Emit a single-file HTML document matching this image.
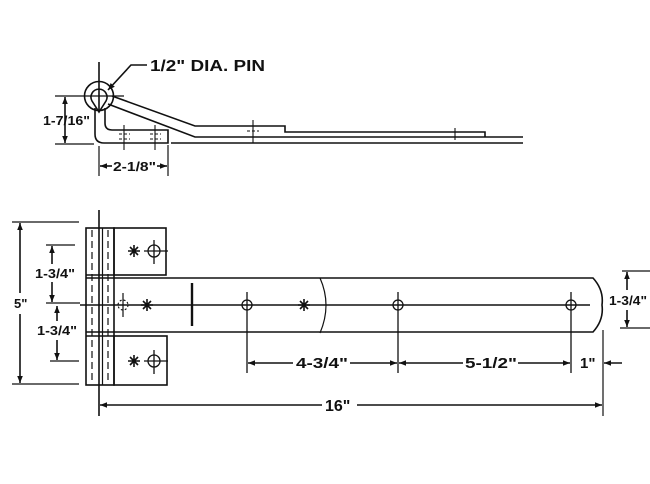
<!DOCTYPE html>
<html><head><meta charset="utf-8"><style>
html,body{margin:0;padding:0;background:#fff;width:650px;height:484px;overflow:hidden}
svg{display:block}
text{font-family:"Liberation Sans",Arial,sans-serif;font-weight:bold;fill:#111}
</style></head><body>
<svg width="650" height="484" viewBox="0 0 650 484" xmlns="http://www.w3.org/2000/svg">
<defs>
<marker id="a" viewBox="0 0 10 10" refX="10" refY="5" markerWidth="7" markerHeight="7" orient="auto-start-reverse" markerUnits="userSpaceOnUse"><path d="M0,1 L10,5 L0,9 Z" fill="#111"/></marker>
</defs>
<g stroke="#111" stroke-width="1.6" fill="none">
<!-- TOP VIEW -->
<line x1="99" y1="62" x2="99" y2="110"/>
<circle cx="99" cy="96" r="14.5"/>
<path d="M92,101 A8,8 0 1 1 106,101 L99,112 Z"/>
<!-- leaf loop -->
<path d="M95,108 L95,134 Q95,143 104,143 L168,143 L168,130 L112,130 Q105,130 105,123 L105,108"/>
<!-- strap -->
<path d="M112,96 L195,126 L285,126 L285,132 L485,132 L485,137"/>
<path d="M108,104 L195,137 L523,137"/>
<line x1="171" y1="143" x2="523" y2="143"/>
<line x1="168" y1="132" x2="195" y2="132" stroke-width="0"/>
<!-- hole marks -->
<g stroke-width="1.1">
<line x1="124" y1="125" x2="124" y2="150"/><line x1="155" y1="125" x2="155" y2="150"/>
<line x1="253" y1="120" x2="253" y2="143"/><line x1="455" y1="128" x2="455" y2="140"/>
<line x1="119" y1="134" x2="130" y2="134" stroke-dasharray="3 2"/><line x1="150" y1="134" x2="161" y2="134" stroke-dasharray="3 2"/>
<line x1="119" y1="139" x2="130" y2="139" stroke-dasharray="3 2"/><line x1="150" y1="139" x2="161" y2="139" stroke-dasharray="3 2"/>
<line x1="247" y1="131" x2="259" y2="131" stroke-dasharray="3 2"/>
</g>
<!-- leader -->
<polyline points="147,65 131,65 108,90" marker-end="url(#a)"/>
<!-- 1-7/16 dim -->
<line x1="55" y1="96" x2="124" y2="96" stroke-width="1.2"/>
<line x1="55" y1="144" x2="94" y2="144" stroke-width="1.2"/>
<line x1="65" y1="97" x2="65" y2="143" marker-start="url(#a)" marker-end="url(#a)"/>
<!-- 2-1/8 dim -->
<line x1="99" y1="146" x2="99" y2="176" stroke-width="1.2"/>
<line x1="168" y1="145" x2="168" y2="176" stroke-width="1.2"/>
<line x1="100" y1="166" x2="112" y2="166" marker-start="url(#a)"/>
<line x1="157" y1="166" x2="167" y2="166" marker-end="url(#a)"/>

<!-- BOTTOM VIEW -->
<rect x="86" y="228" width="28" height="157"/>
<line x1="86" y1="275" x2="114" y2="275"/><line x1="86" y1="278" x2="114" y2="278"/>
<line x1="86" y1="332" x2="114" y2="332"/><line x1="86" y1="336" x2="114" y2="336"/>
<line x1="99" y1="210" x2="99" y2="416"/>
<line x1="102.5" y1="228" x2="102.5" y2="385" stroke-width="1.2"/>
<line x1="92" y1="230" x2="92" y2="384" stroke-dasharray="7 4" stroke-width="1.2"/>
<line x1="108" y1="230" x2="108" y2="384" stroke-dasharray="7 4" stroke-width="1.2"/>
<rect x="114" y="228" width="52" height="47"/>
<rect x="114" y="336" width="53" height="49"/>
<path d="M114,278 L593,278 Q604,290 602,305 Q604,320 593,332 L114,332"/>
<path d="M320,278 Q332,305 320,333" stroke-width="1.2"/>
<line x1="80" y1="305" x2="590" y2="305"/>
<!-- marks -->
<line x1="192" y1="283" x2="192" y2="326" stroke-width="2.4"/>
<circle cx="123" cy="305" r="5" stroke-dasharray="2 2" stroke-width="1.1"/>
<line x1="123" y1="293" x2="123" y2="317" stroke-width="1.2"/>
<g stroke-width="1.3">
<circle cx="247" cy="305" r="5"/><line x1="247" y1="292" x2="247" y2="373"/>
<circle cx="398" cy="305" r="5"/><line x1="398" y1="292" x2="398" y2="373"/>
<circle cx="571" cy="305" r="5"/><line x1="571" y1="292" x2="571" y2="373"/>
<circle cx="154" cy="251" r="6"/><line x1="144" y1="251" x2="168" y2="251"/><line x1="154" y1="240" x2="154" y2="264"/>
<circle cx="154" cy="361" r="6"/><line x1="144" y1="361" x2="168" y2="361"/><line x1="154" y1="350" x2="154" y2="374"/>
</g>
<g stroke-width="1.6">
<path d="M128,251h12M134,245v12M130,247l8,8M138,247l-8,8"/>
<path d="M128,361h12M134,355v12M130,357l8,8M138,357l-8,8"/>
<path d="M141,305h12M147,299v12M143,301l8,8M151,301l-8,8"/>
<path d="M298,305h12M304,299v12M300,301l8,8M308,301l-8,8"/>
</g>
<!-- left dims -->
<g stroke-width="1.2">
<line x1="12" y1="222" x2="79" y2="222"/><line x1="12" y1="384" x2="79" y2="384"/>
<line x1="46" y1="245" x2="75" y2="245"/><line x1="46" y1="303" x2="80" y2="303"/>
<line x1="50" y1="361" x2="79" y2="361"/>
<line x1="622" y1="271" x2="650" y2="271"/><line x1="620" y1="328" x2="650" y2="328"/>
<line x1="603" y1="330" x2="603" y2="416"/>
</g>
<line x1="20" y1="223" x2="20" y2="293" marker-start="url(#a)"/>
<line x1="20" y1="314" x2="20" y2="383" marker-end="url(#a)"/>
<line x1="52" y1="246" x2="52" y2="264" marker-start="url(#a)"/>
<line x1="52" y1="282" x2="52" y2="302" marker-end="url(#a)"/>
<line x1="57" y1="306" x2="57" y2="321" marker-start="url(#a)"/>
<line x1="57" y1="340" x2="57" y2="360" marker-end="url(#a)"/>
<line x1="627" y1="272" x2="627" y2="290" marker-start="url(#a)"/>
<line x1="627" y1="310" x2="627" y2="327" marker-end="url(#a)"/>
<!-- bottom dims -->
<line x1="248" y1="363" x2="293" y2="363" marker-start="url(#a)"/>
<line x1="350" y1="363" x2="397" y2="363" marker-end="url(#a)"/>
<line x1="399" y1="363" x2="463" y2="363" marker-start="url(#a)"/>
<line x1="518" y1="363" x2="570" y2="363" marker-end="url(#a)"/>
<line x1="622" y1="363" x2="604" y2="363" marker-end="url(#a)"/>
<line x1="100" y1="405" x2="322" y2="405" marker-start="url(#a)"/>
<line x1="357" y1="405" x2="602" y2="405" marker-end="url(#a)"/>
</g>
<text x="150" y="71" font-size="16" textLength="115" lengthAdjust="spacingAndGlyphs">1/2" DIA. PIN</text>
<text x="43" y="125" font-size="13" textLength="47" lengthAdjust="spacingAndGlyphs">1-7/16"</text>
<text x="113" y="171" font-size="13" textLength="43" lengthAdjust="spacingAndGlyphs">2-1/8"</text>
<text x="14" y="308" font-size="13">5"</text>
<text x="35" y="278" font-size="13" textLength="40" lengthAdjust="spacingAndGlyphs">1-3/4"</text>
<text x="37" y="335" font-size="13" textLength="40" lengthAdjust="spacingAndGlyphs">1-3/4"</text>
<text x="609" y="305" font-size="13" textLength="38" lengthAdjust="spacingAndGlyphs">1-3/4"</text>
<text x="296" y="368" font-size="15" textLength="52" lengthAdjust="spacingAndGlyphs">4-3/4"</text>
<text x="465" y="368" font-size="15" textLength="52" lengthAdjust="spacingAndGlyphs">5-1/2"</text>
<text x="580" y="368" font-size="15">1"</text>
<text x="325" y="411" font-size="16">16"</text>
</svg>
</body></html>
